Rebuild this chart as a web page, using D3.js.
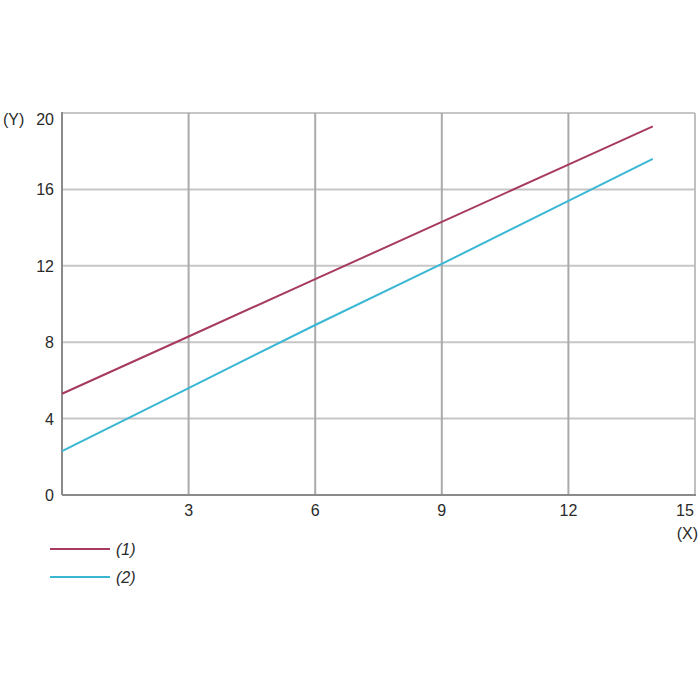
<!DOCTYPE html>
<html>
<head>
<meta charset="utf-8">
<script src="https://cdn.jsdelivr.net/npm/d3@7"></script>
<style>
  body { margin: 0; background: #fff; }
  text { font-family: "Liberation Sans", Arial, sans-serif; fill: #2a2a2a; }
</style>
</head>
<body>
<svg id="chart" width="700" height="700"></svg>
<script>
// values
var xTicks = [3, 6, 9, 12, 15];
var yTicks = [0, 4, 8, 12, 16, 20];
var xs = [0, 3, 6, 9, 12, 14];
var line1 = [5.3, 8.3, 11.3, 14.3, 17.3, 19.3];
var line2 = [2.3, 5.6, 8.9, 12.1, 15.4, 17.6];
var seriesNames = ["(1)", "(2)"];
var colors = ["#a63a5f", "#3ab7d3"];

var plotLeft = 62, plotRight = 695, plotTop = 113, plotBottom = 495;
var svg = d3.select("#chart");

var x = d3.scaleLinear().domain([0, 15]).range([plotLeft, plotRight]);
var y = d3.scaleLinear().domain([0, 20]).range([plotBottom, plotTop]);

// horizontal grid
svg.append("g").selectAll("line")
    .data(yTicks.filter(function(d) { return d > 0; }))
    .enter().append("line")
    .attr("x1", plotLeft).attr("x2", plotRight)
    .attr("y1", function(d) { return y(d); })
    .attr("y2", function(d) { return y(d); })
    .attr("stroke", "#c6c6c6")
    .attr("stroke-width", 2);

// vertical grid
svg.append("g").selectAll("line")
    .data(xTicks)
    .enter().append("line")
    .attr("x1", function(d) { return x(d); })
    .attr("x2", function(d) { return x(d); })
    .attr("y1", plotTop).attr("y2", plotBottom)
    .attr("stroke", function(d) { return d === 15 ? "#c0c0c0" : "#aaaaaa"; })
    .attr("stroke-width", 2);

// axes lines
svg.append("line")
    .attr("x1", plotLeft).attr("x2", plotLeft).attr("y1", plotTop - 1).attr("y2", plotBottom)
    .attr("stroke", "#8a8a8a").attr("stroke-width", 2);
svg.append("line")
    .attr("x1", plotLeft).attr("x2", plotRight + 1).attr("y1", plotBottom).attr("y2", plotBottom)
    .attr("stroke", "#8a8a8a").attr("stroke-width", 2);

// tick labels (top one sits a bit lower, last x one pulled inside)
svg.append("g").selectAll("text")
    .data(yTicks)
    .enter().append("text")
    .attr("x", 54)
    .attr("y", function(d) { return y(d) + (d === 20 ? 12 : 6); })
    .attr("text-anchor", "end")
    .attr("font-size", 16)
    .text(function(d) { return d; });

svg.append("g").selectAll("text")
    .data(xTicks)
    .enter().append("text")
    .attr("x", function(d) { return x(d) - (d === 15 ? 10 : 0); })
    .attr("y", 516)
    .attr("text-anchor", "middle")
    .attr("font-size", 16)
    .text(function(d) { return d; });

svg.append("text").attr("x", 3).attr("y", y(20) + 12)
    .attr("font-size", 16).text("(Y)");
svg.append("text").attr("x", 698).attr("y", 539)
    .attr("text-anchor", "end").attr("font-size", 16).text("(X)");

// series
var line = d3.line()
    .x(function(d) { return x(d[0]); })
    .y(function(d) { return y(d[1]); });

[line1, line2].forEach(function(vals, i) {
    svg.append("path")
        .datum(xs.map(function(v, j) { return [v, vals[j]]; }))
        .attr("d", line)
        .attr("fill", "none")
        .attr("stroke", colors[i])
        .attr("stroke-width", 2);
});

// legend
var legend = svg.append("g").selectAll("g")
    .data(seriesNames)
    .enter().append("g")
    .attr("transform", function(d, i) { return "translate(0," + (549 + i * 28) + ")"; });
legend.append("line")
    .attr("x1", 50).attr("x2", 110)
    .attr("stroke", function(d, i) { return colors[i]; })
    .attr("stroke-width", 2);
legend.append("text")
    .attr("x", 116).attr("y", 6)
    .attr("font-size", 16)
    .attr("font-style", "italic")
    .text(function(d) { return d; });
</script>
</body>
</html>
